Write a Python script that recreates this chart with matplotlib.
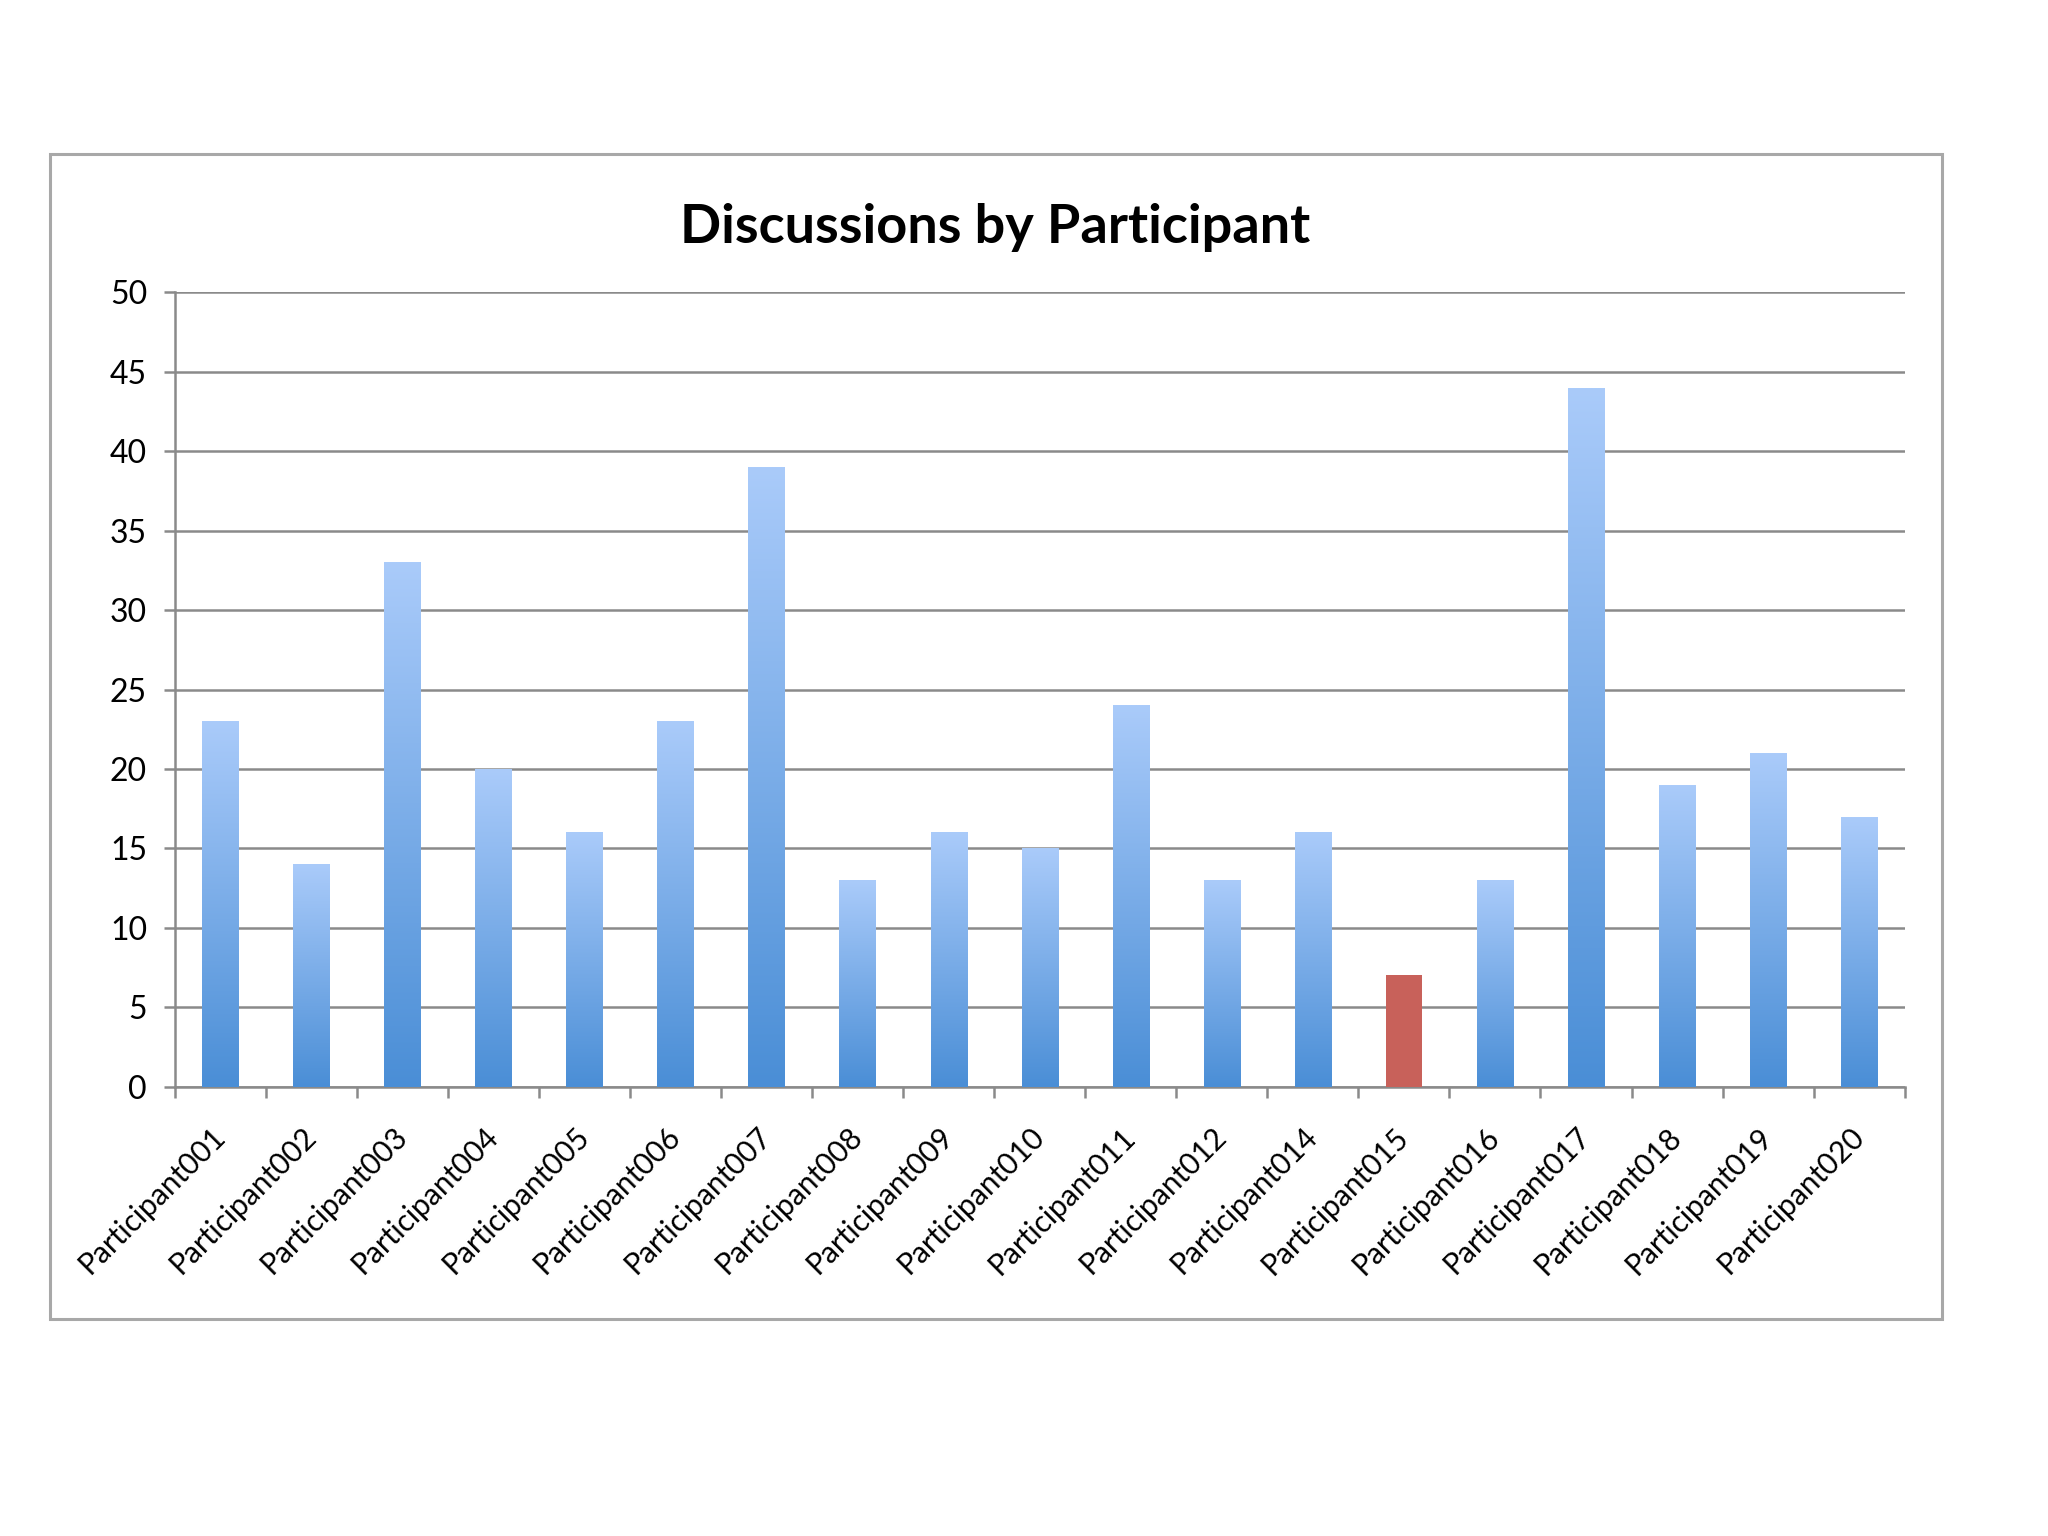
import numpy as np
import matplotlib
matplotlib.use('Agg')
import matplotlib.pyplot as plt
from matplotlib.colors import LinearSegmentedColormap
from matplotlib.patches import Rectangle

plt.rcParams['font.family'] = ['Lato', 'DejaVu Sans']

# ── DATA ─────────────────────────────────────────────────────────────────────
participants = ['Participant001', 'Participant002', 'Participant003', 'Participant004',
                'Participant005', 'Participant006', 'Participant007', 'Participant008',
                'Participant009', 'Participant010', 'Participant011', 'Participant012',
                'Participant014', 'Participant015', 'Participant016', 'Participant017',
                'Participant018', 'Participant019', 'Participant020']
discussions = [23, 14, 33, 20, 16, 23, 39, 13, 16, 15, 24, 13, 16, 7, 13, 44, 19, 21, 17]
highlight = 'Participant015'

title = 'Discussions by Participant'
y_ticks = [0, 5, 10, 15, 20, 25, 30, 35, 40, 45, 50]

# ── STYLE ────────────────────────────────────────────────────────────────────
grid_col = '#8a8a8a'
blue_top = '#aacbfa'
blue_bot = '#4a8ed6'
red_col = '#c8615a'
bar_w = 0.4

fig = plt.figure(figsize=(20.48, 15.36), dpi=100)
fig.patch.set_facecolor('white')

# outer chart border
fig.patches.append(Rectangle((0.0242, 0.1413), 0.9238, 0.7584, transform=fig.transFigure,
                             fill=False, edgecolor='#a8a8a8', linewidth=2.2, zorder=0))

ax = fig.add_axes([0.0854, 0.2926, 0.8446, 0.517])

cmap = LinearSegmentedColormap.from_list('bar', [blue_bot, blue_top])
grad = np.linspace(0, 1, 256).reshape(-1, 1)

x = np.arange(len(participants))
for xi, name, val in zip(x, participants, discussions):
    if name == highlight:
        ax.bar(xi, val, width=bar_w, color=red_col, zorder=3)
    else:
        ax.imshow(grad, cmap=cmap, origin='lower', aspect='auto',
                  extent=(xi - bar_w / 2, xi + bar_w / 2, 0, val), zorder=3)

ax.set_xlim(-0.5, len(participants) - 0.5)
ax.set_ylim(0, 50)

ax.set_yticks(y_ticks)
ax.set_yticklabels([str(v) for v in y_ticks])
ax.yaxis.grid(True, color=grid_col, linewidth=1.8)
ax.set_axisbelow(True)

ax.set_xticks(x)
ax.set_xticklabels(participants, rotation=45, ha='right', va='center', rotation_mode='anchor')
ax.set_xticks(np.arange(-0.5, len(participants)), minor=True)
ax.tick_params(axis='x', which='major', length=0, pad=33, labelsize=21.5)
ax.tick_params(axis='x', which='minor', length=8, width=1.8, color=grid_col)
ax.tick_params(axis='y', length=8, width=1.8, color=grid_col, pad=12, labelsize=23)

for side in ['top', 'right']:
    ax.spines[side].set_visible(False)
for side in ['left', 'bottom']:
    ax.spines[side].set_color(grid_col)
    ax.spines[side].set_linewidth(1.8)

fig.text(0.486, 0.852, title, ha='center', va='center', fontsize=39, fontweight='bold')

fig.savefig('out.png', dpi=100, facecolor='white')
